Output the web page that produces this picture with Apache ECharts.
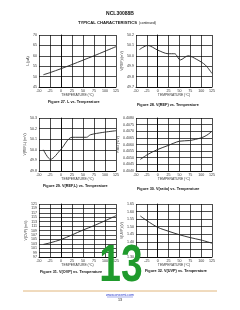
<!DOCTYPE html>
<html><head><meta charset="utf-8">
<script src="https://cdn.jsdelivr.net/npm/echarts@6/dist/echarts.min.js"></script>
<style>html,body{margin:0;padding:0;background:#fff}#c{width:240px;height:310px}</style>
</head><body><div id="c"></div>
<script>
// ---- data ----
const pageTitle = "NCL30088B";
const sectionTitle = "TYPICAL CHARACTERISTICS";
const xName = "TEMPERATURE (°C)";
const tempMin = -50, tempMax = 125, tempStep = 25;

const fig27T = [-40, -25, 0, 25, 50, 75, 100, 125];
const fig27V = [50.9, 51.9, 53.8, 55.8, 57.9, 60.0, 62.2, 64.4];

const fig28T = [-42, -23, 0, 24, 39, 52, 70, 90, 110, 125];
const fig28V = [50.06, 50.1, 50.055, 50.02, 50.02, 49.96, 50.0, 49.965, 49.91, 49.83];

const fig29T = [-40, -24, 0, 25, 58, 67, 95, 125];
const fig29V = [50.0, 49.91, 50.005, 50.118, 50.118, 50.142, 50.164, 50.18];

const fig30T = [-40, -23, 0, 24, 50, 74, 100, 113, 125];
const fig30V = [0.404875, 0.40525, 0.405625, 0.405925, 0.40625, 0.4063, 0.4065, 0.4067, 0.407];

const fig31T = [-40, -25, 0, 25, 50, 75, 100, 125];
const fig31V = [102.7, 103.4, 104.9, 107.0, 109.2, 111.2, 113.4, 115.7];

const fig32T = [-40, -25, 0, 25, 50, 75, 100, 125];
const fig32V = [1.571, 1.54, 1.496, 1.47, 1.447, 1.428, 1.412, 1.391];

const yNames = ["Iₓ (µA)", "V(REF) (mV)", "V(REF,L) (mV)", "Ratio (V/V)", "V(OVP) (mV)", "V(UVP) (V)"];
const yMins = [45, 49.7, 49.8, 0.4040, 97, 1.30];
const yMaxs = [70, 50.2, 50.3, 0.4080, 121, 1.65];
const yInts = [5, 0.1, 0.1, 0.0005, 2, 0.05];
const yDec = [0, 1, 1, 4, 0, 2];
const captions = [
  "Figure 27. Iₓ vs. Temperature",
  "Figure 28. V(REF) vs. Temperature",
  "Figure 29. V(REF,L) vs. Temperature",
  "Figure 30. V(ratio) vs. Temperature",
  "Figure 31. V(OVP) vs. Temperature",
  "Figure 32. V(UVP) vs. Temperature"
];
const seriesT = [fig27T, fig28T, fig29T, fig30T, fig31T, fig32T];
const seriesV = [fig27V, fig28V, fig29V, fig30V, fig31V, fig32V];

// ---- layout ----
const grids = [
  {left: 39, top: 35, width: 77, height: 52},
  {left: 136, top: 35, width: 76, height: 52},
  {left: 39, top: 118, width: 77, height: 53},
  {left: 136, top: 118, width: 76, height: 53},
  {left: 39, top: 204, width: 77, height: 53},
  {left: 136, top: 204, width: 76, height: 53}
];
const capOffset = [13, 16, 13, 16, 13, 12];
const capLeft = [48, 137, 43, 137, 40, 145];
const FONT = "Liberation Sans";
const axisLbl = {fontSize: 3.6, color: '#333', fontFamily: FONT, margin: 2};

const chart = echarts.init(document.getElementById('c'), null, {renderer: 'canvas'});
const xAxis = [], yAxis = [], series = [], graphic = [];
grids.forEach((g, i) => {
  xAxis.push({
    gridIndex: i, type: 'value', min: tempMin, max: tempMax, interval: tempStep,
    name: xName, nameLocation: 'middle', nameGap: 7,
    nameTextStyle: {fontSize: 3.4, color: '#333', fontFamily: FONT},
    axisLine: {show: true, lineStyle: {color: '#000', width: 0.8}},
    axisTick: {show: false},
    axisLabel: axisLbl,
    splitLine: {show: true, lineStyle: {color: '#000', width: 0.7}}
  });
  yAxis.push({
    gridIndex: i, type: 'value', min: yMins[i], max: yMaxs[i], interval: yInts[i],
    name: yNames[i], nameLocation: 'middle', nameGap: yDec[i] === 4 ? 12 : 8,
    nameTextStyle: {fontSize: 3.4, color: '#333', fontFamily: FONT},
    axisLine: {show: true, lineStyle: {color: '#000', width: 0.8}},
    axisTick: {show: false},
    axisLabel: Object.assign({}, axisLbl, {formatter: v => v.toFixed(yDec[i])}),
    splitLine: {show: true, lineStyle: {color: '#000', width: 0.7}}
  });
  series.push({
    type: 'line', xAxisIndex: i, yAxisIndex: i,
    data: seriesT[i].map((t, k) => [t, seriesV[i][k]]),
    showSymbol: false, smooth: 0.3,
    lineStyle: {color: '#222', width: 0.9}
  });
  graphic.push({
    type: 'text', left: capLeft[i], top: g.top + g.height + capOffset[i],
    style: {text: captions[i], fill: '#111', font: 'bold 3.8px "Liberation Sans"'}
  });
});

graphic.push(
  {type: 'text', x: 120, y: 11, style: {text: pageTitle, font: 'bold 5px "Liberation Sans"', fill: '#111', textAlign: 'center'}},
  {type: 'text', x: 137, y: 21, style: {text: sectionTitle, font: 'bold 4.2px "Liberation Sans"', fill: '#111', textAlign: 'right'}},
  {type: 'text', x: 139, y: 21.6, style: {text: "(continued)", font: '3.4px "Liberation Sans"', fill: '#111', textAlign: 'left'}},
  {type: 'line', shape: {x1: 23, y1: 291, x2: 217, y2: 291}, style: {stroke: '#d9a35a', lineWidth: 0.8}},
  {type: 'text', x: 120, y: 293, style: {text: "www.onsemi.com", font: '3.6px "Liberation Sans"', fill: '#2233cc', textAlign: 'center'}},
  {type: 'line', shape: {x1: 107, y1: 297, x2: 133, y2: 297}, style: {stroke: '#2233cc', lineWidth: 0.4}},
  {type: 'text', x: 120, y: 298, style: {text: "13", font: '3.6px "Liberation Sans"', fill: '#111', textAlign: 'center'}},
  {type: 'text', x: 121, y: 293, scaleX: 0.75, z: 100, style: {text: "13", font: 'bold 52px "Liberation Sans"', fill: '#1f9a2c', textAlign: 'center', textVerticalAlign: 'bottom'}}
);

chart.setOption({
  animation: false,
  backgroundColor: '#fff',
  grid: grids,
  xAxis, yAxis, series, graphic
});
</script></body></html>
